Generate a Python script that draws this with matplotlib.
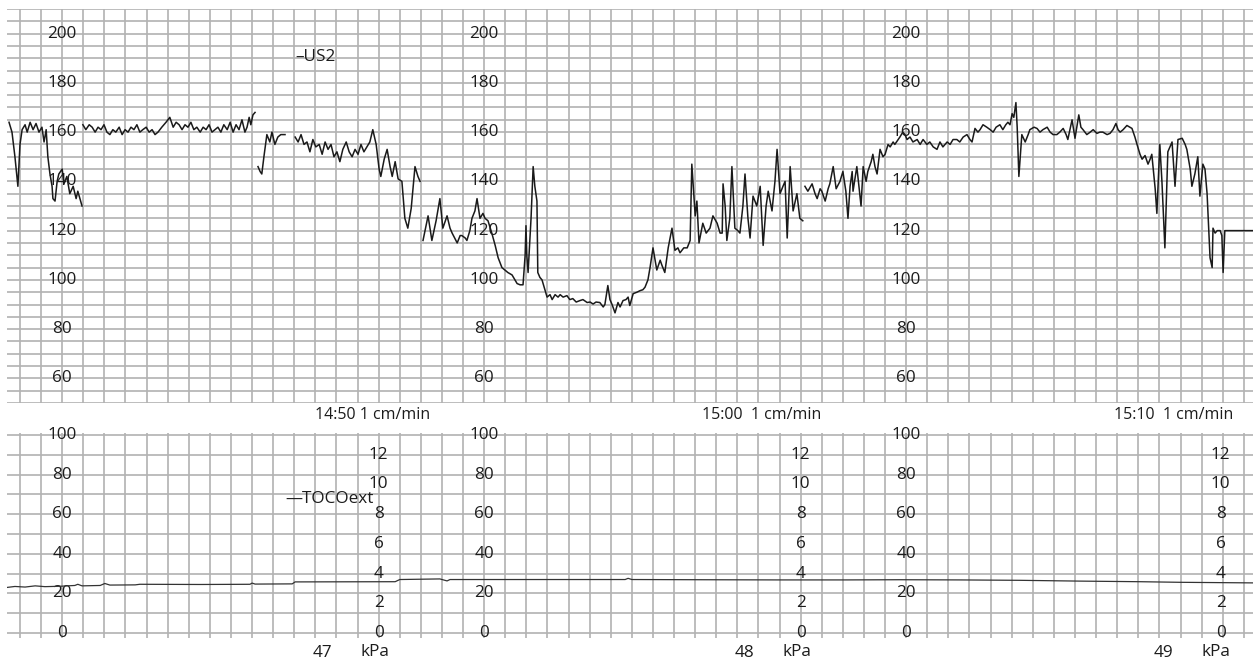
import numpy as np
import matplotlib
matplotlib.use("Agg")
import matplotlib.pyplot as plt

plt.rcParams["font.family"] = ["Open Sans", "DejaVu Sans"]

# ---- Data (time in minutes from start of strip) ---- #

# fetal heart rate (US2), bpm, drawn as separate pieces where the trace is broken
fhr_t_a = [-0.26, -0.19, -0.12, -0.05, 0.00, 0.05, 0.12, 0.17, 0.24, 0.31, 0.38, 0.45,
           0.52, 0.57, 0.62, 0.66, 0.71, 0.76, 0.78, 0.83, 0.88, 0.92, 1.00, 1.04,
           1.11, 1.18, 1.26, 1.33, 1.37, 1.47]
fhr_a = [164, 160, 150, 138, 155, 161, 163, 160, 164, 161, 163.5, 160,
         162, 156, 161, 150, 143, 138, 133, 132, 140, 143, 145, 139,
         142, 135, 138, 133, 136, 130]

fhr_t_b = [1.49, 1.56, 1.64, 1.71, 1.78, 1.85, 1.92, 1.99, 2.06, 2.13, 2.20, 2.27,
           2.35, 2.42, 2.49, 2.56, 2.63, 2.70, 2.77, 2.84, 2.91, 2.99, 3.06, 3.13,
           3.20, 3.27, 3.36, 3.46, 3.55, 3.63, 3.70, 3.77, 3.84, 3.91, 3.98, 4.05,
           4.12, 4.19, 4.27, 4.34, 4.41, 4.48, 4.55, 4.62, 4.69, 4.76, 4.83, 4.91,
           4.98, 5.05, 5.12, 5.19, 5.26, 5.33, 5.38, 5.43, 5.47, 5.52, 5.57]
fhr_b = [163, 161, 163, 162, 160, 162, 161, 163, 160, 159, 161, 160,
         162, 159, 161, 160, 162, 161, 163, 160, 161, 162, 160, 161,
         159, 160, 162, 164, 166, 162, 164, 163, 161, 163, 162, 164,
         161, 162, 160, 162, 161, 163, 160, 161, 162, 160, 163, 161,
         164, 160, 163, 161, 165, 160, 162, 166, 163, 167, 168]

fhr_t_c = [5.64, 5.69, 5.73, 5.78, 5.85, 5.92, 5.97, 6.04, 6.11, 6.18, 6.28]
fhr_c = [146, 144, 143, 150, 159, 156, 160, 155, 158, 159, 159]

fhr_t_d = [6.52, 6.59, 6.66, 6.73, 6.80, 6.87, 6.94, 7.01, 7.09, 7.16, 7.23, 7.30,
           7.37, 7.44, 7.51, 7.58, 7.65, 7.73, 7.80, 7.87, 7.94, 8.01, 8.08, 8.15,
           8.22, 8.29, 8.36, 8.44, 8.51, 8.55, 8.63, 8.70, 8.77, 8.82, 8.89, 8.96,
           9.05, 9.12, 9.19, 9.27, 9.36, 9.43, 9.48]
fhr_d = [158, 156, 159, 155, 156, 152, 157, 154, 155, 151, 156, 153,
         155, 150, 152, 148, 153, 156, 152, 150, 153, 151, 155, 152,
         154, 156, 161, 155, 145, 142, 149, 153, 146, 142, 148, 141,
         140, 125, 121, 129, 146, 142, 140]

fhr_t_e = [9.55, 9.67, 9.76, 9.86, 9.95, 10.02, 10.12, 10.19, 10.24, 10.36, 10.43, 10.47,
           10.55, 10.59, 10.66, 10.71, 10.78, 10.83, 10.90, 10.97, 11.02, 11.09, 11.18, 11.26,
           11.33, 11.42, 11.49, 11.56, 11.66, 11.73, 11.78, 11.85, 11.92, 11.97, 11.99, 12.01,
           12.04, 12.11, 12.16, 12.20, 12.25, 12.27, 12.32, 12.37, 12.44, 12.49, 12.56, 12.61,
           12.68, 12.75, 12.80, 12.87, 12.96, 13.03, 13.10, 13.18, 13.27, 13.34, 13.44, 13.51,
           13.58, 13.65, 13.74, 13.82, 13.86, 13.93, 13.98, 14.03, 14.10, 14.17, 14.22, 14.29,
           14.36, 14.41, 14.45, 14.53, 14.62, 14.69, 14.76, 14.81, 14.88, 14.93, 15.00, 15.05,
           15.09, 15.17, 15.21, 15.28, 15.36, 15.45, 15.52, 15.59, 15.64, 15.73, 15.81, 15.88,
           15.92, 16.00, 16.04, 16.09, 16.18, 16.26, 16.35, 16.42, 16.52, 16.59, 16.64, 16.66,
           16.71, 16.75, 16.82, 16.87, 16.94, 17.01, 17.06, 17.13, 17.18, 17.25, 17.30, 17.37,
           17.46, 17.54, 17.61, 17.68, 17.73, 17.82, 17.89, 17.94, 18.01, 18.08, 18.13, 18.18,
           18.25, 18.32, 18.41, 18.48, 18.55]
fhr_e = [116, 126, 116, 124, 133, 121, 126, 121, 119, 115, 118, 118,
         117, 116, 120, 125, 128, 133, 125, 127, 125, 124, 119, 114,
         109, 105, 104, 103, 102, 100, 98.5, 98, 98, 110, 122, 110,
         103, 125, 146, 138, 132, 103, 101, 100, 96, 93, 94, 92,
         94, 93, 94, 93, 93.6, 92, 92.4, 91, 91.6, 92, 90.8, 91,
         90.2, 91, 90.8, 89, 90, 97.7, 92, 90, 86.6, 90.8, 89, 91.6,
         92, 93, 89.6, 94.4, 95, 95.6, 96, 97, 100, 105, 113, 108,
         104, 108, 106, 103, 113, 121, 112, 113, 111, 113, 113, 116,
         147, 126, 132, 115, 123, 119, 121, 126, 123, 119, 119, 139,
         130, 116, 125, 146, 121, 120, 119, 130, 143, 125, 117, 134,
         130, 138, 114, 130, 136, 128, 140, 153, 135, 138, 140, 117,
         146, 128, 135, 125, 124]

fhr_t_f = [18.60, 18.67, 18.77, 18.84, 18.89, 18.96, 19.00, 19.08, 19.15, 19.19, 19.27, 19.34,
           19.43, 19.50, 19.57, 19.62, 19.67, 19.72, 19.74, 19.83, 19.88, 19.93, 19.98, 20.05,
           20.09, 20.17, 20.21, 20.26, 20.31, 20.38, 20.45, 20.50, 20.57, 20.62, 20.69, 20.73,
           20.81, 20.85, 20.92, 20.97, 21.02, 21.09, 21.16, 21.26, 21.33, 21.40, 21.49, 21.56,
           21.64, 21.73, 21.80, 21.87, 21.97, 22.04, 22.11, 22.20, 22.27, 22.35, 22.44, 22.51,
           22.56, 22.63, 22.70, 22.75, 22.82, 22.91, 22.99, 23.06, 23.13, 23.22, 23.29, 23.36,
           23.41, 23.46, 23.51, 23.55, 23.60, 23.63, 23.67, 23.74, 23.82, 23.89, 23.93, 24.03,
           24.10, 24.17, 24.24, 24.34, 24.41, 24.48, 24.57, 24.64, 24.72, 24.79, 24.83, 24.93,
           25.00, 25.09, 25.14, 25.19, 25.28, 25.36, 25.43, 25.52, 25.59, 25.66, 25.76, 25.83,
           25.90, 25.97, 26.02, 26.07, 26.14, 26.23, 26.30, 26.35, 26.42, 26.47, 26.54, 26.59,
           26.66, 26.73, 26.78, 26.82, 26.90, 26.94, 27.01, 27.06, 27.13, 27.20, 27.30, 27.37,
           27.44, 27.54, 27.61, 27.65, 27.73, 27.77, 27.84, 27.91, 27.96, 28.03, 28.08, 28.13,
           28.20, 28.25, 28.27, 28.32, 28.37, 28.44, 28.48, 28.51, 28.55, 28.63, 28.72, 29.22]
fhr_f = [138, 136, 139, 135, 133, 137, 136, 132, 137, 139, 146, 137,
         140, 144, 136, 125, 138, 144, 136, 146, 138, 130, 146, 140,
         144, 148, 151, 146, 143, 153, 150, 151, 155, 154, 156, 155,
         157, 158, 160, 159, 157, 158, 156, 157, 155, 157, 155, 156,
         154, 153, 156, 154, 156, 155, 157, 157, 156, 158, 159, 157,
         156, 161.5, 160, 161, 163, 162, 161, 160, 162, 163, 161, 163,
         164, 163, 167.5, 166, 172, 162, 142, 159, 156, 159, 161, 162,
         161.5, 160, 161, 162, 160, 159, 159, 160, 161.5, 159, 157, 165,
         157.5, 167, 162, 161, 159, 160, 161, 159.5, 160, 160, 159, 159.5,
         161, 163.5, 161, 160, 161, 162.7, 162, 161.5, 158, 155, 151, 149,
         150.5, 147, 149, 151, 137, 127, 155, 140, 113, 152, 156, 138,
         157, 157.5, 155, 153, 145, 138, 143, 150, 134, 147, 145, 135,
         109, 105, 121, 119, 120, 120, 118, 103, 120, 120, 120, 120]

# external tocodynamometer (TOCOext), relative units
toco_t = [-0.31, -0.12, 0.12, 0.36, 0.59, 0.95, 1.30, 1.37, 1.47, 1.90, 2.01, 2.13,
          2.73, 2.84, 4.27, 5.45, 5.50, 5.57, 6.45, 6.52, 8.89, 9.00, 9.95, 10.12,
          10.19, 11.85, 12.80, 14.34, 14.41, 14.50, 16.11, 18.01, 19.55, 20.85, 22.27, 23.70,
          25.12, 26.54, 27.49, 29.22]
toco = [23.0, 23.5, 23.2, 23.8, 23.4, 23.6, 24.0, 24.6, 23.8, 24.0, 25.0, 24.2,
        24.3, 24.6, 24.5, 24.6, 25.2, 24.7, 24.8, 25.8, 25.9, 27.0, 27.3, 26.3,
        27.0, 27.0, 27.0, 27.0, 27.6, 27.0, 26.9, 26.8, 26.8, 26.9, 26.8, 26.6,
        26.2, 25.9, 25.6, 25.3]

hr_ticks = [200, 180, 160, 140, 120, 100, 80, 60]
uc_ticks = [100, 80, 60, 40, 20, 0]
kpa_ticks = [12, 10, 8, 6, 4, 2, 0]
scale_starts = [1.0, 11.0, 21.0]
kpa_cols = [8.5, 18.5, 28.45]
time_labels = ["14:50 1 cm/min", "15:00  1 cm/min", "15:10  1 cm/min"]
time_label_t = [7.0, 16.16, 25.92]
page_labels = ["47", "48", "49"]
page_label_t = [7.16, 17.16, 27.1]

# ---- Figure ---- #

W, H = 1253, 665
fig = plt.figure(figsize=(W / 100, H / 100), dpi=100)
ax_hr = fig.add_axes([7 / W, (H - 403) / H, (W - 7) / W, (403 - 9) / H])
ax_uc = fig.add_axes([7 / W, (H - 638) / H, (W - 7) / W, (638 - 433) / H])

xlim = (-0.308, 29.218)
grid_col = "#b2b2b2"
txt_col = "#1c1c1c"
fs = 12.3

for ax in (ax_hr, ax_uc):
    ax.set_xlim(*xlim)
    ax.set_xticks(np.arange(0, 29.3, 0.5))
    ax.tick_params(length=0, labelbottom=False, labelleft=False)
    ax.grid(True, color=grid_col, lw=1.2)
    ax.set_axisbelow(True)
    for s in ax.spines.values():
        s.set_visible(False)
    ax.patch.set_alpha(0)

ax_hr.set_ylim(50, 210)
ax_hr.set_yticks(np.arange(50, 211, 5))
ax_uc.set_ylim(-2.53, 101.0)
ax_uc.set_yticks(np.arange(0, 101, 10))

# traces
for tt, vv in [(fhr_t_a, fhr_a), (fhr_t_b, fhr_b), (fhr_t_c, fhr_c),
               (fhr_t_d, fhr_d), (fhr_t_e, fhr_e), (fhr_t_f, fhr_f)]:
    ax_hr.plot(tt, vv, color="#1a1a1a", lw=1.1, zorder=3)
ax_uc.plot(toco_t, toco, color="#333333", lw=0.9, zorder=3)

# scale labels printed on the paper
for x0 in scale_starts:
    for v in hr_ticks:
        ax_hr.text(x0, v, str(v), ha="center", va="center", fontsize=fs,
                   color=txt_col, zorder=2)
    for v in uc_ticks:
        ax_uc.text(x0, v, str(v), ha="center", va="center", fontsize=fs,
                   color=txt_col, zorder=2)
for x0 in kpa_cols:
    for v in kpa_ticks:
        ax_uc.text(x0, v * 7.5, str(v), ha="center", va="center", fontsize=fs,
                   color=txt_col, zorder=2)

for lab, x0 in zip(time_labels, time_label_t):
    ax_uc.text(x0, 110, lab, ha="left", va="center", fontsize=11.5,
               color=txt_col, clip_on=False)
for lab, x0, xk in zip(page_labels, page_label_t, kpa_cols):
    ax_uc.text(x0, -10.3, lab, ha="center", va="center", fontsize=fs,
               color=txt_col, clip_on=False)
    ax_uc.text(xk - 0.1, -9.7, "kPa", ha="center", va="center", fontsize=fs,
               color=txt_col, clip_on=False)

ax_hr.text(6.52, 190.5, "\u2013US2", ha="left", va="center", fontsize=fs,
           color=txt_col)
ax_uc.text(6.28, 67.7, "\u2014TOCOext", ha="left", va="center", fontsize=fs,
           color=txt_col)

fig.savefig("out.png", dpi=100, facecolor="white")
